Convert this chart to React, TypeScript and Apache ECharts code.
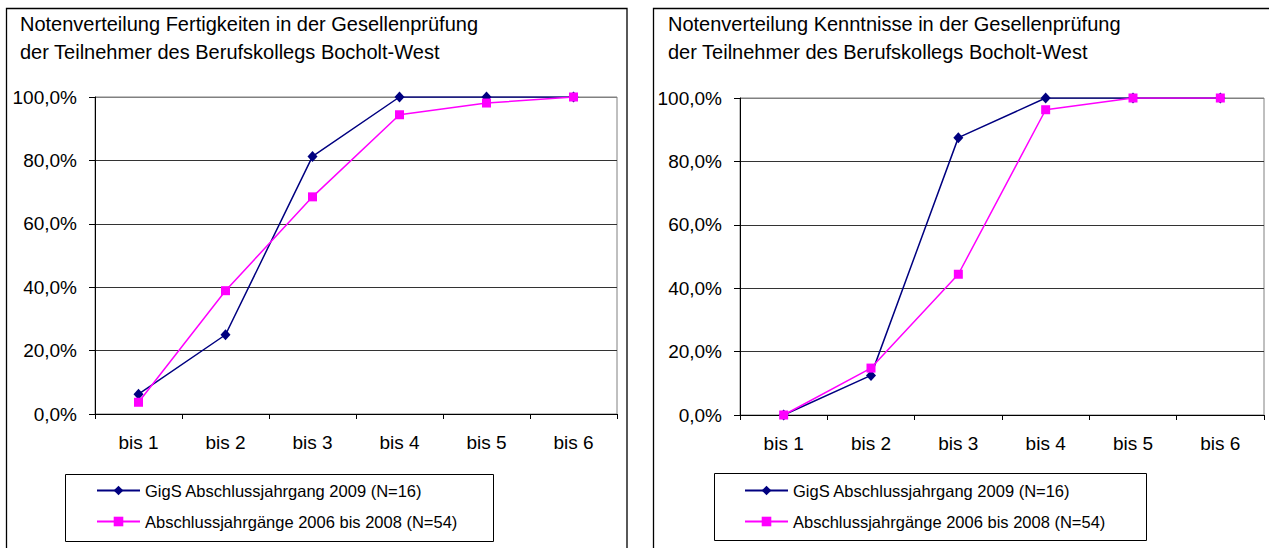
import React, { useEffect, useRef } from "react";
import * as echarts from "echarts";

const categories = ["bis 1", "bis 2", "bis 3", "bis 4", "bis 5", "bis 6"];
const seriesNames = [
  "GigS Abschlussjahrgang 2009 (N=16)",
  "Abschlussjahrgänge 2006 bis 2008 (N=54)",
];
const titleLeft = "Notenverteilung Fertigkeiten in der Gesellenprüfung\nder Teilnehmer des Berufskollegs Bocholt-West";
const titleRight = "Notenverteilung Kenntnisse in der Gesellenprüfung\nder Teilnehmer des Berufskollegs Bocholt-West";

// values in percent
const fertigkeitenGigs = [6.25, 25, 81.25, 100, 100, 100];
const fertigkeitenAlt = [3.7, 38.9, 68.5, 94.4, 98.1, 100];
const kenntnisseGigs = [0, 12.5, 87.5, 100, 100, 100];
const kenntnisseAlt = [0, 14.8, 44.4, 96.3, 100, 100];

const FONT = "'Liberation Sans', Arial, sans-serif";
const BLUE = "#000080";
const PINK = "#FF00FF";

export default function App() {
  const ref = useRef<HTMLDivElement>(null);
  useEffect(() => {
    if (!ref.current) return;
    const chart = echarts.init(ref.current, null, { renderer: "svg" });

    const xAxis = (gridIndex: number) => ({
      type: "category",
      gridIndex,
      data: categories,
      boundaryGap: true,
      axisLine: { show: true, lineStyle: { color: "#000", width: 1 } },
      axisTick: { show: true, length: 5, lineStyle: { color: "#000" } },
      axisLabel: { fontSize: 19, color: "#000", fontFamily: FONT, margin: 19 },
      splitLine: { show: false },
    });
    const yAxis = (gridIndex: number) => ({
      type: "value",
      gridIndex,
      min: 0,
      max: 100,
      interval: 20,
      axisLine: { show: true, lineStyle: { color: "#000", width: 1 } },
      axisTick: { show: true, length: 6, lineStyle: { color: "#000" } },
      axisLabel: {
        fontSize: 19,
        color: "#000",
        fontFamily: FONT,
        margin: 18,
        formatter: (v: number) => v.toFixed(1).replace(".", ",") + "%",
      },
      splitLine: {
        show: true,
        lineStyle: {
          color: ["#000", "#333", "#333", "#333", "#333", "#808080"],
          width: 1,
        },
      },
    });
    const lineSeries = (
      name: string,
      data: number[],
      idx: number,
      color: string,
      symbol: string,
      size: number | number[]
    ) => ({
      type: "line",
      name,
      data,
      xAxisIndex: idx,
      yAxisIndex: idx,
      symbol,
      symbolSize: size,
      showAllSymbol: true,
      lineStyle: { color, width: 1.5 },
      itemStyle: { color, borderWidth: 0 },
      z: color === BLUE ? 3 : 4,
    });

    const legend = (left: number) => ({
      orient: "vertical",
      left,
      top: 482,
      padding: 0,
      itemWidth: 43,
      itemHeight: 12,
      itemGap: 14,
      selectedMode: false,
      textStyle: { fontSize: 16.5, color: "#000", fontFamily: FONT, lineHeight: 17 },
      data: seriesNames,
    });

    chart.setOption({
      animation: false,
      backgroundColor: "#fff",
      title: [
        {
          text: titleLeft,
          left: 20,
          top: 10,
          padding: 0,
          textStyle: { fontSize: 20, fontWeight: "normal", color: "#000", fontFamily: FONT, lineHeight: 28 },
        },
        {
          text: titleRight,
          left: 668,
          top: 10,
          padding: 0,
          textStyle: { fontSize: 20, fontWeight: "normal", color: "#000", fontFamily: FONT, lineHeight: 28 },
        },
      ],
      legend: [legend(96), legend(744)],
      grid: [
        { left: 95, right: 1269 - 617, top: 97, bottom: 548 - 414, show: true, borderColor: "#808080", borderWidth: 1, backgroundColor: "transparent" },
        { left: 740, right: 1269 - 1264, top: 98, bottom: 548 - 415, show: true, borderColor: "#808080", borderWidth: 1, backgroundColor: "transparent" },
      ],
      xAxis: [xAxis(0), xAxis(1)],
      yAxis: [yAxis(0), yAxis(1)],
      series: [
        lineSeries(seriesNames[0], fertigkeitenGigs, 0, BLUE, "diamond", [10, 11]),
        lineSeries(seriesNames[1], fertigkeitenAlt, 0, PINK, "rect", 9),
        lineSeries(seriesNames[0], kenntnisseGigs, 1, BLUE, "diamond", [10, 11]),
        lineSeries(seriesNames[1], kenntnisseAlt, 1, PINK, "rect", 9),
      ],
      graphic: [
        { type: "rect", shape: { x: 6.5, y: 8.5, width: 620.5, height: 600 }, style: { fill: "none", stroke: "#000", lineWidth: 1.3 }, z: 0, silent: true },
        { type: "rect", shape: { x: 653.5, y: 8.5, width: 700, height: 600 }, style: { fill: "none", stroke: "#000", lineWidth: 1.3 }, z: 0, silent: true },
        { type: "rect", shape: { x: 65.5, y: 474.5, width: 428, height: 67 }, style: { fill: "none", stroke: "#000", lineWidth: 1 }, z: 0, silent: true },
        { type: "rect", shape: { x: 714.5, y: 473.5, width: 432, height: 67 }, style: { fill: "none", stroke: "#000", lineWidth: 1 }, z: 0, silent: true },
      ],
    });
    return () => chart.dispose();
  }, []);
  return (
    <div
      ref={ref}
      style={{ position: "fixed", left: 0, top: 0, width: 1269, height: 548 }}
    />
  );
}
